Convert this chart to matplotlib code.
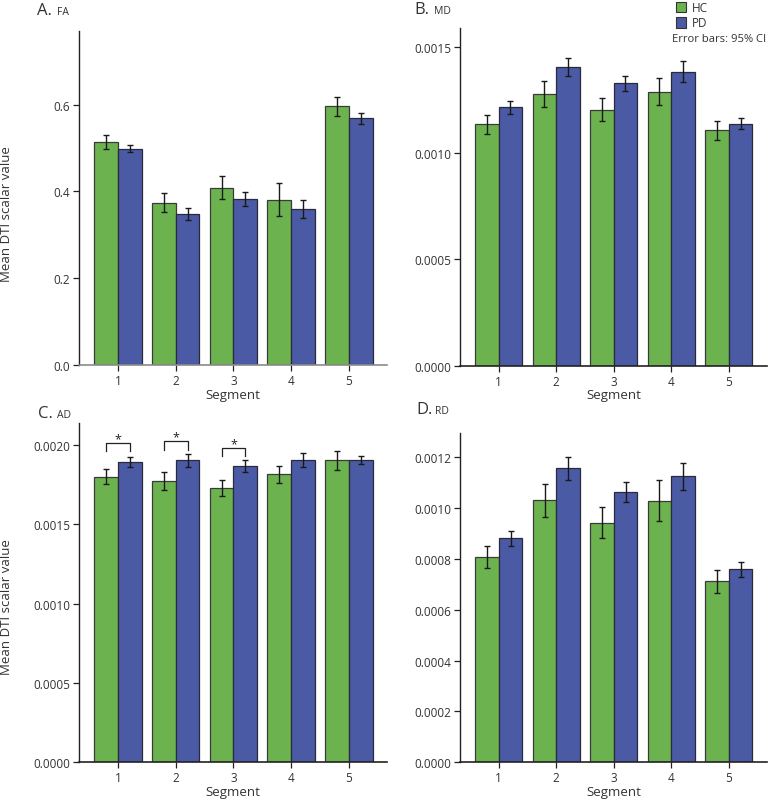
import matplotlib
matplotlib.use("Agg")
import matplotlib.pyplot as plt
import numpy as np
from matplotlib.patches import Rectangle

plt.rcParams['font.family'] = ['Open Sans', 'DejaVu Sans']

segments = [1, 2, 3, 4, 5]
groups = ["HC", "PD"]
colors = {"HC": "#6cb350", "PD": "#4b5aa5"}

# FA
fa_hc = [0.515, 0.3745, 0.409, 0.381, 0.596]
fa_pd = [0.499, 0.3476, 0.382, 0.359, 0.569]
fa_hc_err = [0.016, 0.022, 0.027, 0.038, 0.021]
fa_pd_err = [0.009, 0.014, 0.016, 0.021, 0.013]

# MD
md_hc = [0.001135, 0.001277, 0.001204, 0.001289, 0.001107]
md_pd = [0.001215, 0.001404, 0.001328, 0.001383, 0.001138]
md_hc_err = [0.000045, 0.000061, 0.000055, 0.000065, 0.000045]
md_pd_err = [0.000030, 0.000043, 0.000036, 0.000048, 0.000026]

# AD
ad_hc = [0.001799, 0.001769, 0.001729, 0.001813, 0.001901]
ad_pd = [0.001891, 0.001901, 0.001864, 0.001906, 0.001901]
ad_hc_err = [0.000049, 0.000057, 0.000050, 0.000052, 0.000060]
ad_pd_err = [0.000034, 0.000043, 0.000038, 0.000045, 0.000025]
ad_sig_segments = [1, 2, 3]
ad_sig_y = [0.002010, 0.002021, 0.001979]

# RD
rd_hc = [0.000807, 0.001032, 0.000943, 0.001030, 0.000713]
rd_pd = [0.000881, 0.001157, 0.001065, 0.001125, 0.000759]
rd_hc_err = [0.000044, 0.000065, 0.000061, 0.000080, 0.000045]
rd_pd_err = [0.000029, 0.000045, 0.000040, 0.000054, 0.000029]

fa_ticks = [0.0, 0.2, 0.4, 0.6]
md_ticks = [0.0, 0.0005, 0.0010, 0.0015]
ad_ticks = [0.0, 0.0005, 0.0010, 0.0015, 0.0020]
rd_ticks = [0.0, 0.0002, 0.0004, 0.0006, 0.0008, 0.0010, 0.0012]

W, H = 769, 804
fig = plt.figure(figsize=(W / 100, H / 100), dpi=100)

def px_ax(l, t, r, b):
    return fig.add_axes([l / W, 1 - b / H, (r - l) / W, (b - t) / H])

axA = px_ax(79.3, 32, 387, 366)
axB = px_ax(460, 29.3, 766.7, 366.7)
axC = px_ax(79.3, 424.3, 387, 763.3)
axD = px_ax(460.3, 434.3, 766.7, 763.3)

bw = 0.41
text_col = "#333333"

def panel(ax, hc, pd, hce, pde, ticks, ylim, fmt, bottom_col="#222222"):
    x = np.array(segments, dtype=float)
    ax.bar(x - bw / 2, hc, bw, color=colors["HC"], edgecolor="#3a3a3a", linewidth=0.9, zorder=2)
    ax.bar(x + bw / 2, pd, bw, color=colors["PD"], edgecolor="#2a2a3a", linewidth=0.9, zorder=2)
    ax.errorbar(x - bw / 2, hc, yerr=hce, fmt="none", ecolor="#1a1a1a", elinewidth=1.0, capsize=2.5, capthick=1.0, zorder=3)
    ax.errorbar(x + bw / 2, pd, yerr=pde, fmt="none", ecolor="#1a1a1a", elinewidth=1.0, capsize=2.5, capthick=1.0, zorder=3)
    ax.set_xlim(0.33, 5.66)
    ax.set_ylim(*ylim)
    ax.set_xticks(segments)
    ax.set_xticklabels([str(s) for s in segments])
    ax.set_yticks(ticks)
    ax.set_yticklabels([fmt.format(t) for t in ticks])
    for s in ["top", "right"]:
        ax.spines[s].set_visible(False)
    ax.spines["left"].set_color("#222222")
    ax.spines["left"].set_linewidth(1.0)
    ax.spines["bottom"].set_color(bottom_col)
    ax.spines["bottom"].set_linewidth(1.2)
    ax.tick_params(axis="both", direction="out", length=4, width=0.9, color="#222222",
                   labelsize=8.5, labelcolor=text_col)
    ax.tick_params(axis="x", pad=2.5)
    ax.tick_params(axis="y", pad=2.5)
    ax.set_xlabel("Segment", fontsize=9.5, color=text_col, labelpad=0.5)
    ax.set_facecolor("white")

panel(axA, fa_hc, fa_pd, fa_hc_err, fa_pd_err, fa_ticks, (0, 0.77), "{:.1f}", bottom_col="#8a8a8a")
panel(axB, md_hc, md_pd, md_hc_err, md_pd_err, md_ticks, (0, 0.001587), "{:.4f}")
panel(axC, ad_hc, ad_pd, ad_hc_err, ad_pd_err, ad_ticks, (0, 0.002135), "{:.4f}")
panel(axD, rd_hc, rd_pd, rd_hc_err, rd_pd_err, rd_ticks, (0, 0.001295), "{:.4f}")

# significance brackets in panel C
leg = 0.000052
for seg, yb in zip(ad_sig_segments, ad_sig_y):
    x0, x1 = seg - bw / 2, seg + bw / 2
    axC.plot([x0, x0, x1, x1], [yb - leg, yb, yb, yb - leg], color="#222222", lw=0.9, zorder=4)
    axC.text(seg, yb + 0.000004, "*", ha="center", va="baseline", fontsize=9, color="#222222")

# y labels
for yc in [214, 607]:
    fig.text(7 / W, 1 - yc / H, "Mean DTI scalar value", rotation=90, ha="center", va="center",
             fontsize=9.5, color=text_col)

# panel titles
titles = [("A.", "FA", 36.7, 57.3, 15), ("B.", "MD", 414.3, 434.3, 14),
          ("C.", "AD", 37.7, 57.3, 418.3), ("D.", "RD", 416.7, 435, 414.3)]
for letter, name, xl, xn, yb in titles:
    fig.text(xl / W, 1 - yb / H, letter, fontsize=12, color=text_col, ha="left", va="baseline")
    fig.text(xn / W, 1 - yb / H, name, fontsize=7.5, color=text_col, ha="left", va="baseline")

# legend
for g, top in [("HC", 2.7), ("PD", 18.3)]:
    fig.patches.append(Rectangle((675.7 / W, 1 - (top + 10.7) / H), 10.5 / W, 10.7 / H,
                                 transform=fig.transFigure, facecolor=colors[g],
                                 edgecolor="#333333", linewidth=0.8))
    fig.text(692.3 / W, 1 - (top + 5.5) / H, g, fontsize=8.5, color=text_col, ha="left", va="center")
fig.text(671.7 / W, 1 - 39.3 / H, "Error bars: 95% CI", fontsize=8.1, color=text_col,
         ha="left", va="center")

fig.savefig("out.png", dpi=100, facecolor="white")
